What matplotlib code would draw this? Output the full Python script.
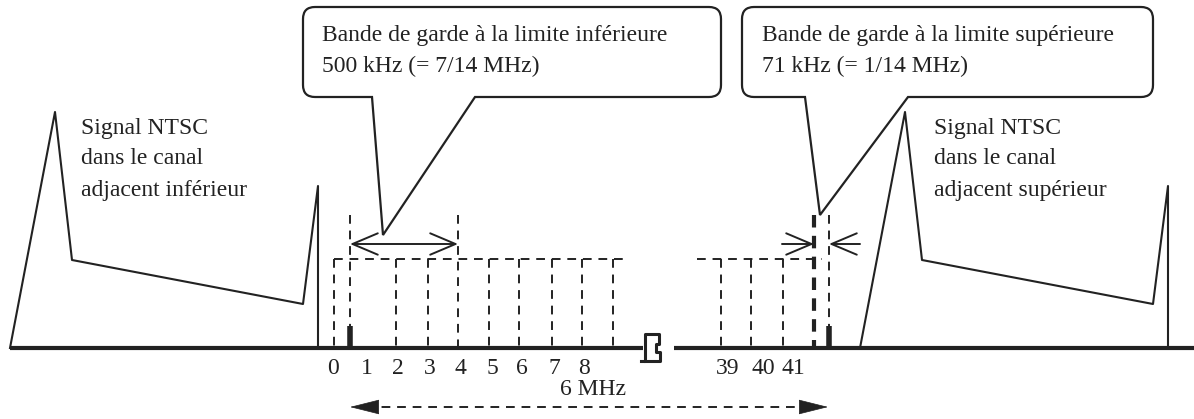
import matplotlib
matplotlib.use("Agg")
from matplotlib import pyplot as plt
from matplotlib.path import Path
from matplotlib.patches import PathPatch, FancyArrowPatch

# --- diagram data (pixel coordinates, y grows downwards) ---
base_y = 348
signal_dx = [0, 45, 62, 293, 308, 308]          # NTSC spectrum shape
signal_y = [348, 112, 260, 304, 186, 348]
signal_starts = [10, 860]

carrier_x_low = [334, 396, 428, 489, 519, 552, 582, 613]
carrier_lbl_low = ["0", "1", "2", "3", "4", "5", "6", "7", "8"]
carrier_lbl_low_x = [333, 367, 398, 430, 460, 492, 522, 554, 584]
carrier_x_high = [721, 751, 783]
carrier_lbl_high = ["39", "40", "41"]
carrier_lbl_high_x = [728, 763, 793]

guard_low = [350, 458]
guard_high = [814, 829]
pilot_x = [350, 829]

ink = "#222222"
serif = ["Liberation Serif", "DejaVu Serif"]
fs = 17

fig = plt.figure(figsize=(11.94, 4.19), dpi=100)
ax = fig.add_axes((0, 0, 1, 1))
ax.set_xlim(0, 1194)
ax.set_ylim(419, 0)
ax.axis("off")

# baseline with break
ax.plot([10, 643], [base_y, base_y], color=ink, lw=3.0, solid_capstyle="butt")
ax.plot([674, 1194], [base_y, base_y], color=ink, lw=3.0, solid_capstyle="butt")
brk_x = [641, 645, 645, 659, 659, 656, 656, 660, 660, 648, 645]
brk_y = [361, 361, 334, 334, 344, 344, 352, 352, 361, 361, 361]
ax.plot(brk_x, brk_y, color=ink, lw=2.2, solid_joinstyle="round")

# NTSC adjacent-channel spectra
for x0 in signal_starts:
    ax.plot([x0 + d for d in signal_dx], signal_y, color=ink, lw=1.5)

dash = (0, (4.5, 3.5))
# OFDM sub-carrier grid
ax.plot([334, 628], [259, 259], color=ink, lw=1.4, ls=dash)
ax.plot([697, 822], [259, 259], color=ink, lw=1.4, ls=dash)
for x in carrier_x_low + carrier_x_high:
    ax.plot([x, x], [259, base_y], color=ink, lw=1.4, ls=dash)
for x in [guard_low[0], guard_low[1], guard_high[1]]:
    ax.plot([x, x], [215, base_y], color=ink, lw=1.4, ls=dash)
ax.plot([guard_high[0], guard_high[0]], [215, base_y], color=ink, lw=3.0, ls=(0, (3, 2)))
for x in pilot_x:
    ax.plot([x, x], [326, base_y], color=ink, lw=4.0, solid_capstyle="butt")

for lbl, x in zip(carrier_lbl_low, carrier_lbl_low_x):
    ax.text(x, 368, lbl, ha="center", va="center", fontsize=fs, family=serif, color=ink)
for lbl, x in zip(carrier_lbl_high, carrier_lbl_high_x):
    ax.text(x, 368, lbl, ha="center", va="center", fontsize=fs, family=serif, color=ink)

# guard band arrows (open heads)
open_head = "<->,head_length=1.3,head_width=0.55"
ax.add_patch(FancyArrowPatch((guard_low[0], 244), (guard_low[1], 244), arrowstyle=open_head,
                             mutation_scale=14, color=ink, lw=1.4, shrinkA=0, shrinkB=0))
ax.add_patch(FancyArrowPatch((782, 244), (guard_high[0], 244), arrowstyle="->,head_length=1.3,head_width=0.55",
                             mutation_scale=14, color=ink, lw=1.4, shrinkA=0, shrinkB=0))
ax.add_patch(FancyArrowPatch((860, 244), (guard_high[1], 244), arrowstyle="->,head_length=1.3,head_width=0.55",
                             mutation_scale=14, color=ink, lw=1.4, shrinkA=0, shrinkB=0))

# 6 MHz span
ax.plot([366, 812], [407, 407], color=ink, lw=1.4, ls=dash)
ax.add_patch(FancyArrowPatch((372, 407), (350, 407), arrowstyle="-|>,head_length=1.4,head_width=0.35",
                             mutation_scale=14, color=ink, lw=0.5, shrinkA=0, shrinkB=0))
ax.add_patch(FancyArrowPatch((806, 407), (828, 407), arrowstyle="-|>,head_length=1.4,head_width=0.35",
                             mutation_scale=14, color=ink, lw=0.5, shrinkA=0, shrinkB=0))
ax.text(593, 389, "6 MHz", ha="center", va="center", fontsize=fs, family=serif, color=ink)


def callout(x0, x1, y0, y1, p0, p1, tip, r=12):
    verts = [(p0, y1), (tip[0], tip[1]), (p1, y1),
             (x1 - r, y1), (x1, y1), (x1, y1 - r),
             (x1, y0 + r), (x1, y0), (x1 - r, y0),
             (x0 + r, y0), (x0, y0), (x0, y0 + r),
             (x0, y1 - r), (x0, y1), (x0 + r, y1),
             (p0, y1)]
    codes = [Path.MOVETO, Path.LINETO, Path.LINETO,
             Path.LINETO, Path.CURVE3, Path.CURVE3,
             Path.LINETO, Path.CURVE3, Path.CURVE3,
             Path.LINETO, Path.CURVE3, Path.CURVE3,
             Path.LINETO, Path.CURVE3, Path.CURVE3,
             Path.CLOSEPOLY]
    ax.add_patch(PathPatch(Path(verts, codes), facecolor="white", edgecolor=ink, lw=1.6))


callout(303, 721, 7, 97, 372, 475, (383, 235))
callout(742, 1153, 7, 97, 805, 908, (820, 215))
ax.text(322, 35, "Bande de garde à la limite inférieure", va="center", fontsize=fs, family=serif, color=ink)
ax.text(322, 66, "500 kHz (= 7/14 MHz)", va="center", fontsize=fs, family=serif, color=ink)
ax.text(762, 35, "Bande de garde à la limite supérieure", va="center", fontsize=fs, family=serif, color=ink)
ax.text(762, 66, "71 kHz (= 1/14 MHz)", va="center", fontsize=fs, family=serif, color=ink)

side_lines = ["Signal NTSC", "dans le canal"]
for x, last in [(81, "adjacent inférieur"), (934, "adjacent supérieur")]:
    for y, t in zip([128, 158, 190], side_lines + [last]):
        ax.text(x, y, t, va="center", fontsize=fs, family=serif, color=ink)

fig.savefig("out.png", dpi=100)
